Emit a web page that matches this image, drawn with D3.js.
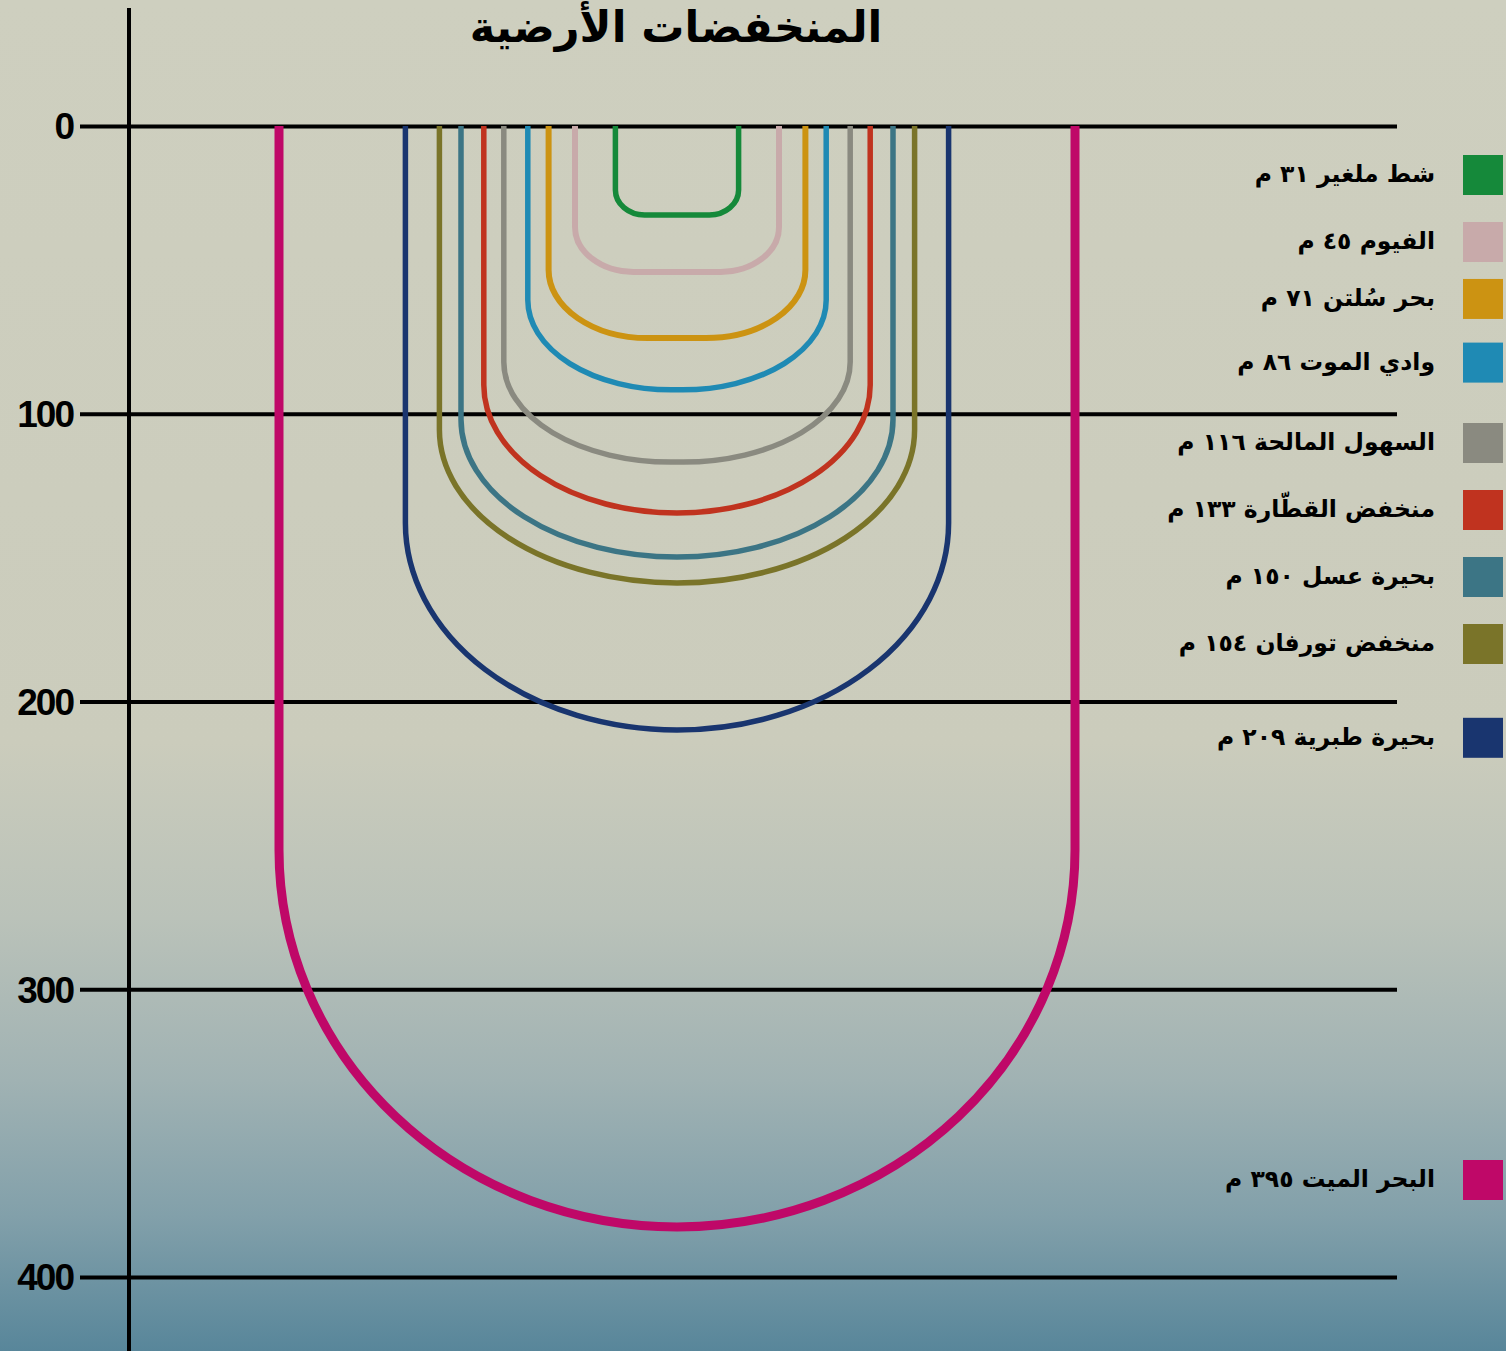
<!DOCTYPE html>
<html>
  <head>
    <meta charset="utf-8">
    <script src="https://cdn.jsdelivr.net/npm/d3@7/dist/d3.min.js"></script>
    <style>
      body { margin: 0; background: #cecfbf; }
    </style>
  </head>
  <body>
    <svg id="chart" width="1506" height="1351"></svg>

    <script>
      // depressions, shallowest first
      var names = ["شط ملغير", "الفيوم", "بحر سُلتن", "وادي الموت", "السهول المالحة",
                   "منخفض القطّارة", "بحيرة عسل", "منخفض تورفان", "بحيرة طبرية", "البحر الميت"];
      var depthText = ["٣١", "٤٥", "٧١", "٨٦", "١١٦", "١٣٣", "١٥٠", "١٥٤", "٢٠٩", "٣٩٥"];
      // depth (m) of each curve's bottom, and where its walls start to bend
      var bottomDepth = [30.9, 50.7, 73.7, 91.7, 116.8, 134.5, 149.8, 158.8, 209.9, 382.6];
      var wallDepth = [22.2, 35.1, 50, 60.5, 82, 90, 102, 105.6, 138, 251.6];
      // half opening of each U on a -100..100 horizontal scale
      var halfSpan = [15.4, 25.5, 32.1, 37.3, 43.3, 48.3, 54, 59.4, 67.9, 99.5];
      var colors = ["#15893a", "#c8aaaa", "#cc9312", "#1f8ab4", "#8a8a80",
                    "#c0331f", "#3c7585", "#7a7429", "#19356f", "#bf0868"];
      var yTicks = [0, 100, 200, 300, 400];
      var title = "المنخفضات الأرضية";

      var svg = d3.select("#chart");
      var W = 1506, H = 1351;

      // background wash, beige fading into blue at the bottom
      var grad = svg.append("defs").append("linearGradient")
        .attr("id", "bg").attr("x1", 0).attr("y1", 0).attr("x2", 0).attr("y2", 1);
      [[0, "#cecfbf"], [0.55, "#cbccbc"], [0.68, "#bac2b9"], [0.8, "#a0b2b3"],
       [0.9, "#82a0aa"], [1, "#58869a"]].forEach(function(s) {
        grad.append("stop").attr("offset", s[0]).attr("stop-color", s[1]);
      });
      svg.append("rect").attr("width", W).attr("height", H).attr("fill", "url(#bg)");

      var y = d3.scaleLinear().domain([0, 400]).range([126, 1277]);
      var x = d3.scaleLinear().domain([-100, 100]).range([277, 1077]);

      // grid + ticks
      var axis = d3.axisLeft(y).tickValues(yTicks).tickSize(-(1397 - 129)).tickPadding(0).tickFormat("");
      var g = svg.append("g").attr("transform", "translate(129,0)").call(axis);
      g.select(".domain").remove();
      g.selectAll(".tick line").attr("x1", 80 - 129).attr("stroke", "#000").attr("stroke-width", 4);

      svg.selectAll(".ylab").data(yTicks).join("text")
        .attr("class", "ylab")
        .attr("x", 73).attr("y", function(d) { return y(d); })
        .attr("dy", "0.36em")
        .attr("text-anchor", "end")
        .attr("font-family", "Liberation Sans, Arial, sans-serif")
        .attr("font-weight", "bold")
        .attr("font-size", 37)
        .attr("letter-spacing", -2)
        .text(function(d) { return d; });

      svg.append("line")
        .attr("x1", 129).attr("x2", 129).attr("y1", 8).attr("y2", H)
        .attr("stroke", "#000").attr("stroke-width", 4);

      // U-shaped depth curves: straight walls, then a rounded bottom
      function uPath(i) {
        var l = x(-halfSpan[i]), r = x(halfSpan[i]);
        var top = y(0), yc = y(wallDepth[i]), yb = y(bottomDepth[i]);
        var ry = yb - yc, rx = Math.min(ry * (1 + ry / 150), (r - l) / 2);
        return "M" + l + "," + top + "L" + l + "," + yc +
          "A" + rx + "," + ry + " 0 0 0 " + (l + rx) + "," + yb +
          "L" + (r - rx) + "," + yb +
          "A" + rx + "," + ry + " 0 0 0 " + r + "," + yc +
          "L" + r + "," + top;
      }

      svg.selectAll(".dep").data(d3.range(names.length).reverse()).join("path")
        .attr("class", "dep")
        .attr("d", uPath)
        .attr("fill", "none")
        .attr("stroke", function(i) { return colors[i]; })
        .attr("stroke-width", function(i) { return i == 9 ? 9 : (i == 1 || i == 2 ? 6 : 5.5); });

      // legend
      var slot = [0, 1, 1.85, 2.8, 4, 5, 6, 7, 8.4, 15];
      var leg = svg.selectAll(".leg").data(d3.range(names.length)).join("g")
        .attr("class", "leg")
        .attr("transform", function(i) { return "translate(0," + (175 + slot[i] * 67) + ")"; });
      leg.append("rect")
        .attr("x", 1463).attr("y", -20).attr("width", 40).attr("height", 40)
        .attr("fill", function(i) { return colors[i]; });
      leg.append("text")
        .attr("x", 1435).attr("y", 0).attr("dy", "0.3em")
        .attr("text-anchor", "end")
        .attr("font-family", "DejaVu Sans, sans-serif")
        .attr("font-weight", "bold")
        .attr("font-size", 23.5)
        .text(function(i) { return names[i] + " " + depthText[i] + " م"; });

      svg.append("text")
        .attr("x", 676).attr("y", 42)
        .attr("text-anchor", "middle")
        .attr("font-family", "DejaVu Sans, sans-serif")
        .attr("font-weight", "bold")
        .attr("font-size", 43)
        .text(title);
    </script>
  </body>
</html>
